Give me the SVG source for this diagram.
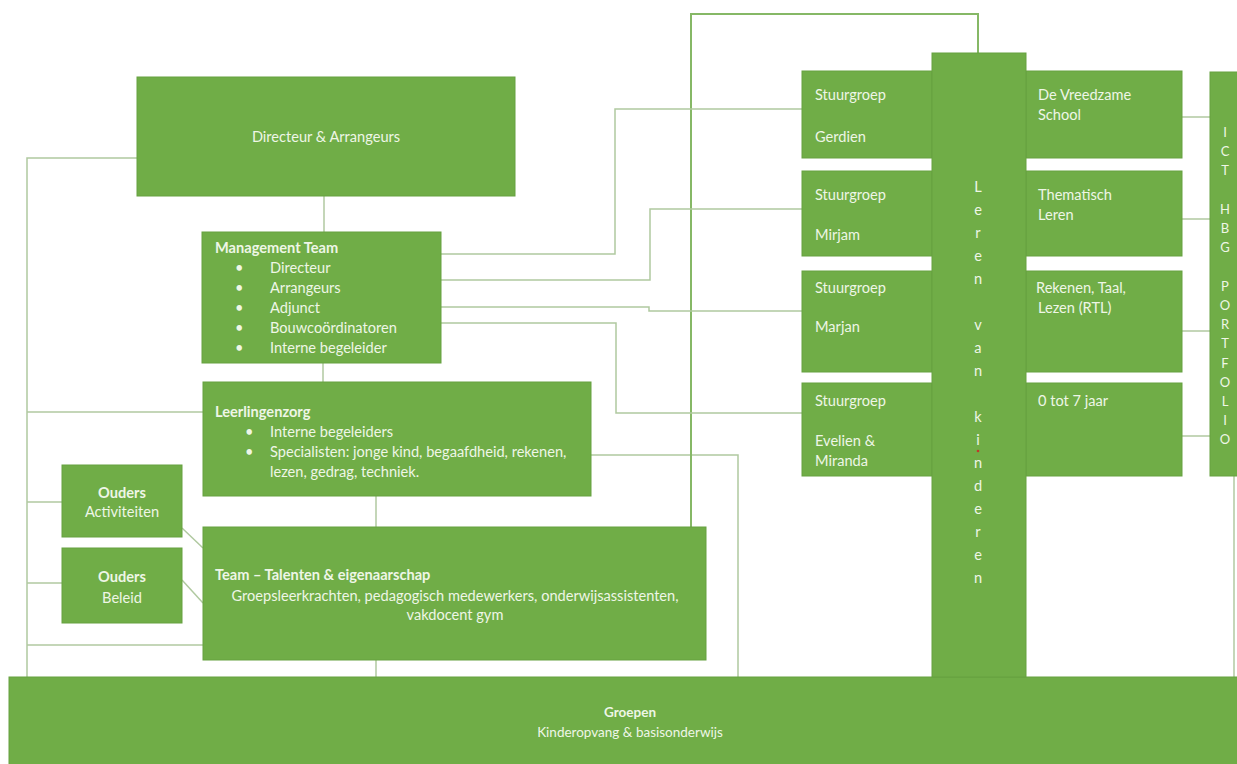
<svg xmlns="http://www.w3.org/2000/svg" width="1237" height="764" viewBox="0 0 1237 764">
<style>
.box{fill:#70ad47;stroke:#66a140;stroke-width:1}
.t{font-family:Lato,"Open Sans","Liberation Sans",sans-serif;font-size:14.6px;fill:#eef6e6}
.b{font-weight:bold}
.c{text-anchor:middle}
.ln{fill:none;stroke:#b0c9a0;stroke-width:1.5}
.dk{fill:none;stroke:#86b866;stroke-width:2}
</style>
<rect width="1237" height="764" fill="#ffffff"/>
<g id="connectors">
<path class="ln" d="M137,158 H27 V677"/>
<path class="ln" d="M27,412 H203"/>
<path class="ln" d="M27,502 H62"/>
<path class="ln" d="M27,583 H62"/>
<path class="ln" d="M27,645 H203"/>
<path class="ln" d="M182,528 L203,548"/>
<path class="ln" d="M182,580 L203,603"/>
<path class="ln" d="M324,196 V232"/>
<path class="ln" d="M323,363 V382"/>
<path class="ln" d="M376,496 V527"/>
<path class="ln" d="M376,660 V677"/>
<path class="ln" d="M591,455 H738 V677"/>
<path class="dk" d="M691,527 V14 H978 V53"/>
<path class="ln" d="M441,254 H615 V109 H802"/>
<path class="ln" d="M441,280 H650 V209 H802"/>
<path class="ln" d="M441,307 H649 V311 H802"/>
<path class="ln" d="M441,323 H616 V413 H802"/>
<path class="ln" d="M1182,117 H1210"/>
<path class="ln" d="M1182,219 H1210"/>
<path class="ln" d="M1182,331 H1210"/>
<path class="ln" d="M1182,436 H1210"/>
<path class="ln" d="M1234,476 V677"/>
</g>
<g id="directeur">
<rect class="box" x="137" y="77" width="378" height="119"/>
<text class="t c" x="326" y="142">Directeur &amp; Arrangeurs</text>
</g>
<g id="management-team">
<rect class="box" x="202" y="232" width="239" height="131"/>
<text class="t b" x="215" y="253">Management Team</text>
<g class="t">
<text x="235" y="273">•</text><text x="270" y="273">Directeur</text>
<text x="235" y="293">•</text><text x="270" y="293">Arrangeurs</text>
<text x="235" y="313">•</text><text x="270" y="313">Adjunct</text>
<text x="235" y="333">•</text><text x="270" y="333">Bouwcoördinatoren</text>
<text x="235" y="353">•</text><text x="270" y="353">Interne begeleider</text>
</g>
</g>
<g id="leerlingenzorg">
<rect class="box" x="203" y="382" width="388" height="114"/>
<text class="t b" x="215" y="417">Leerlingenzorg</text>
<g class="t">
<text x="245" y="437">•</text><text x="270" y="437">Interne begeleiders</text>
<text x="245" y="457">•</text><text x="270" y="457">Specialisten: jonge kind, begaafdheid, rekenen,</text>
<text x="270" y="477">lezen, gedrag, techniek.</text>
</g>
</g>
<g id="ouders-activiteiten">
<rect class="box" x="62" y="465" width="120" height="72"/>
<text class="t b c" x="122" y="498">Ouders</text>
<text class="t c" x="122" y="517">Activiteiten</text>
</g>
<g id="ouders-beleid">
<rect class="box" x="62" y="548" width="120" height="75"/>
<text class="t b c" x="122" y="582">Ouders</text>
<text class="t c" x="122" y="603">Beleid</text>
</g>
<g id="team">
<rect class="box" x="203" y="527" width="503" height="133"/>
<text class="t b" x="215" y="580">Team – Talenten &amp; eigenaarschap</text>
<text class="t c" x="455" y="601">Groepsleerkrachten, pedagogisch medewerkers, onderwijsassistenten,</text>
<text class="t c" x="455" y="620">vakdocent gym</text>
</g>
<g id="stuurgroep-gerdien">
<rect class="box" x="802" y="71" width="130" height="87"/>
<text class="t" x="815" y="100">Stuurgroep</text>
<text class="t" x="815" y="142">Gerdien</text>
</g>
<g id="stuurgroep-mirjam">
<rect class="box" x="802" y="171" width="130" height="85"/>
<text class="t" x="815" y="200">Stuurgroep</text>
<text class="t" x="815" y="240">Mirjam</text>
</g>
<g id="stuurgroep-marjan">
<rect class="box" x="802" y="271" width="130" height="101"/>
<text class="t" x="815" y="293">Stuurgroep</text>
<text class="t" x="815" y="332">Marjan</text>
</g>
<g id="stuurgroep-evelien">
<rect class="box" x="802" y="383" width="130" height="93"/>
<text class="t" x="815" y="406">Stuurgroep</text>
<text class="t" x="815" y="446">Evelien &amp;</text>
<text class="t" x="815" y="466">Miranda</text>
</g>
<g id="vreedzame-school">
<rect class="box" x="1026" y="71" width="156" height="87"/>
<text class="t" x="1038" y="100">De Vreedzame</text>
<text class="t" x="1038" y="120">School</text>
</g>
<g id="thematisch-leren">
<rect class="box" x="1026" y="171" width="156" height="85"/>
<text class="t" x="1038" y="200">Thematisch</text>
<text class="t" x="1038" y="220">Leren</text>
</g>
<g id="rtl">
<rect class="box" x="1026" y="271" width="156" height="101"/>
<text class="t" x="1036" y="293">Rekenen, Taal,</text>
<text class="t" x="1038" y="313">Lezen (RTL)</text>
</g>
<g id="nul-tot-zeven">
<rect class="box" x="1026" y="383" width="156" height="93"/>
<text class="t" x="1038" y="406">0 tot 7 jaar</text>
</g>
<g id="ict-portfolio">
<rect class="box" x="1210" y="72" width="40" height="404"/>
<g class="t c" style="font-size:13px">
<text x="1225" y="137">I</text><text x="1225" y="156">C</text><text x="1225" y="175">T</text>
<text x="1225" y="214">H</text><text x="1225" y="233">B</text><text x="1225" y="252">G</text>
<text x="1225" y="291">P</text><text x="1225" y="310">O</text><text x="1225" y="329">R</text><text x="1225" y="348">T</text><text x="1225" y="368">F</text><text x="1225" y="387">O</text><text x="1225" y="406">L</text><text x="1225" y="425">I</text><text x="1225" y="444">O</text>
</g>
</g>
<g id="groepen">
<rect class="box" x="9" y="677" width="1240" height="90"/>
<text class="t b c" x="630" y="717" style="font-size:13.5px">Groepen</text>
<text class="t c" x="630" y="737" style="font-size:13.5px">Kinderopvang &amp; basisonderwijs</text>
</g>
<g id="leren-van-kinderen">
<rect class="box" x="932" y="53" width="94" height="624" stroke="#5f9a3a"/>
<g class="t c">
<text x="978" y="192">L</text><text x="978" y="215">e</text><text x="978" y="238">r</text><text x="978" y="261">e</text><text x="978" y="284">n</text>
<text x="978" y="330">v</text><text x="978" y="353">a</text><text x="978" y="376">n</text>
<text x="978" y="422">k</text><text x="978" y="445">i</text><text x="978" y="468">n</text><text x="978" y="491">d</text><text x="978" y="514">e</text><text x="978" y="537">r</text><text x="978" y="560">e</text><text x="978" y="583">n</text>
</g>
<circle cx="978" cy="451" r="1.3" fill="#c0392b"/>
</g>
</svg>
